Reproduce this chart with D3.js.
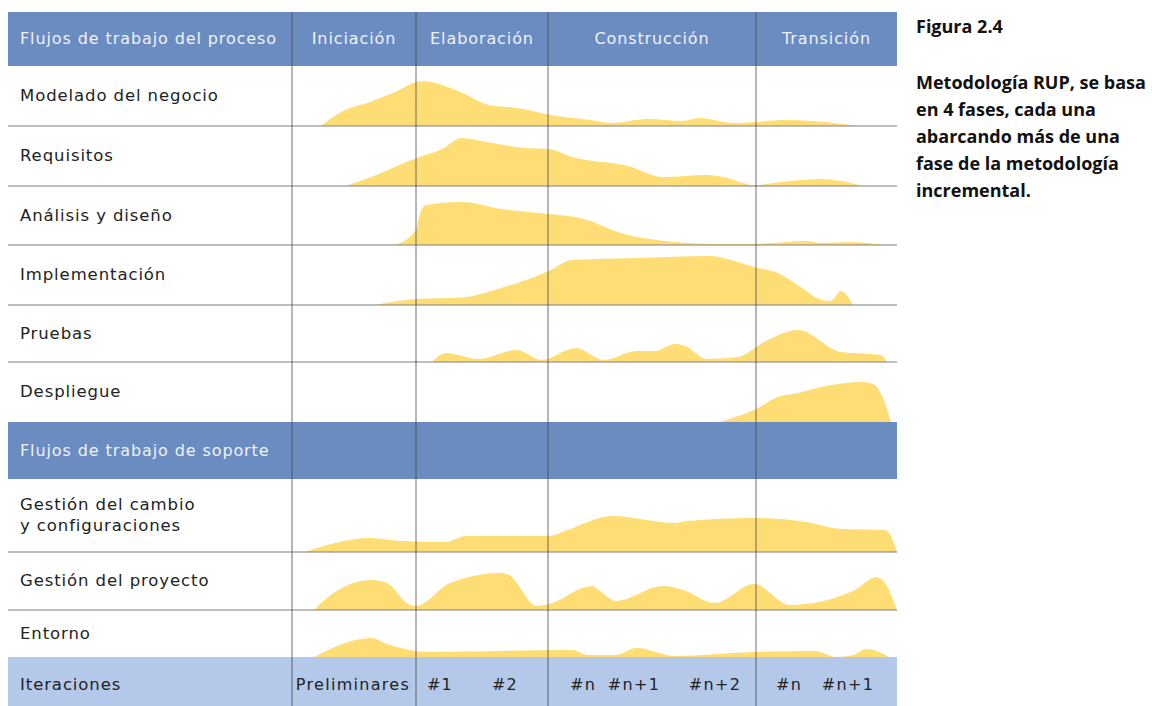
<!DOCTYPE html>
<html>
<head>
<meta charset="utf-8">
<script src="https://cdn.jsdelivr.net/npm/d3@7/dist/d3.min.js"></script>
<style>
  body { margin: 0; background: #fff; }
  svg { display: block; }
</style>
</head>
<body>
<svg id="chart" width="1152" height="706"></svg>
<script>
// fases y limites en el eje del tiempo (0 .. 605)
const phases = ["Iniciación", "Elaboración", "Construcción", "Transición"];
const phaseBounds = [0, 124, 256, 464, 605];

const iterationLabels = ["Preliminares", "#1", "#2", "#n", "#n+1", "#n+2", "#n", "#n+1"];
const iterationTicks = [61, 148, 213, 291, 342, 423, 497, 556];

const processFlows = ["Modelado del negocio", "Requisitos", "Análisis y diseño",
  "Implementación", "Pruebas", "Despliegue"];
const supportFlows = [["Gestión del cambio", "y configuraciones"], ["Gestión del proyecto"], ["Entorno"]];

// esfuerzo [tiempo, intensidad]
const modelado = [[29,0],[51,15],[78,24],[103,34],[130,45],[166,35],[197,21],[225,18],[265,10],
  [298,6],[320,3],[355,7],[391,5],[407,8],[442,3],[494,6],[533,4],[565,0]];
const requisitos = [[53,0],[79,9],[122,27],[150,37],[170,48],[194,44],[233,38],[257,37],[280,29],
  [336,20],[371,9],[415,11],[431,9],[462,1],[498,5],[530,7],[549,5],[571,0]];
const analisis = [[103,0],[124,15],[128,31],[134,40],[170,43],[209,36],[257,31],[288,27],[332,11],
  [383,3],[423,1],[462,1],[514,4],[530,2],[557,3],[593,0]];
const implementacion = [[83,0],[124,6],[170,7.5],[209,17],[257,34],[280,45],[344,47],[419,49],
  [435,46],[462,38],[486,32],[510,17],[530,5],[539,4],[549,14],[561,0]];
const pruebas = [[140,0],[154,9],[186,3],[225,12],[249,2],[284,14],[312,2],[344,11],[363,11],
  [383,18],[391,17],[415,3],[446,5],[474,21],[506,32],[549,10],[589,7],[595,0]];
const despliegue = [[427,0],[462,12],[486,25],[506,29],[534,36],[569,40],[581,38],[593,19],[599,0]];
const cambio = [[12,0],[79,14],[107,11],[154,10],[174,16],[257,16],[273,21],[320,36],[383,29],
  [395,31],[462,34],[514,30],[549,23],[593,22],[599,16],[605,0]];
const proyecto = [[22,0],[28,6],[79,30],[95,27],[118,5],[124,4],[158,27],[209,37],[217,35],
  [245,4],[257,6],[300,24],[304,22],[324,9],[371,24],[391,20],[423,7],[462,26],[498,5],
  [561,19],[585,33],[593,27],[605,0]];
const entorno = [[22,0],[79,19],[95,13],[138,5],[280,7],[296,2],[324,2],[344,9],[383,1],
  [462,5],[522,6],[545,0],[561,2],[575,8],[597,0]];

const processSeries = [modelado, requisitos, analisis, implementacion, pruebas, despliegue];
const supportSeries = [cambio, proyecto, entorno];

const figTitle = "Figura 2.4";
const figText = ["Metodología RUP, se basa", "en 4 fases, cada una", "abarcando más de una",
  "fase de la metodología", "incremental."];

// layout
const padL = 8, padR = 897, padT = 12;
const headerH = 54, supportH = 57, iterTop = 657;
const processRowH = [60, 60, 59, 60, 57, 60];
const supportRowH = [73, 58, 47];

const svg = d3.select("#chart");
const font = "'DejaVu Sans', Verdana, sans-serif";

const x = d3.scaleLinear().domain([0, 605]).range([292, 897]);
const y = d3.scaleLinear().domain([0, 50]).range([0, 50]);

const area = d3.area()
  .x(d => x(d[0]))
  .curve(d3.curveMonotoneX);

// filas
let rows = [];
let yy = padT + headerH;
processFlows.forEach((name, i) => {
  rows.push({ label: [name], data: processSeries[i], y0: yy, y1: yy + processRowH[i] });
  yy += processRowH[i];
});
const supportY = yy;
yy += supportH;
supportFlows.forEach((name, i) => {
  rows.push({ label: name, data: supportSeries[i], y0: yy, y1: yy + supportRowH[i] });
  yy += supportRowH[i];
});

// bandas
svg.append("rect").attr("x", padL).attr("y", padT).attr("width", padR - padL).attr("height", headerH)
  .attr("fill", "#6a8cc0");
svg.append("rect").attr("x", padL).attr("y", supportY).attr("width", padR - padL).attr("height", supportH)
  .attr("fill", "#6a8cc0");
svg.append("rect").attr("x", padL).attr("y", iterTop).attr("width", padR - padL).attr("height", 706 - iterTop)
  .attr("fill", "#b4c8e9");

// areas
svg.append("g").selectAll("path")
  .data(rows)
  .join("path")
  .attr("d", r => area.y0(r.y1).y1(d => r.y1 - y(d[1]))(r.data))
  .attr("fill", "#fedd75");

// lineas horizontales (no bajo Despliegue ni Entorno: ahi empieza una banda)
svg.append("g").selectAll("line")
  .data(rows.filter((r, i) => i !== 5 && i !== rows.length - 1))
  .join("line")
  .attr("x1", padL).attr("x2", padR)
  .attr("y1", r => r.y1).attr("y2", r => r.y1)
  .attr("stroke", "#8c8c8c").attr("stroke-opacity", 0.75).attr("stroke-width", 1.6);

// lineas verticales
svg.append("g").selectAll("line")
  .data(phaseBounds.slice(0, 4))
  .join("line")
  .attr("x1", d => x(d)).attr("x2", d => x(d))
  .attr("y1", padT).attr("y2", 706)
  .attr("stroke", "#444").attr("stroke-opacity", 0.6).attr("stroke-width", 1.3);

// textos cabecera
const headText = sel => sel
  .attr("font-family", font).attr("font-size", 16).attr("letter-spacing", 0.9)
  .attr("fill", "#eef2f9");

svg.append("text").attr("x", 20).attr("y", padT + headerH / 2 + 5)
  .call(headText)
  .text("Flujos de trabajo del proceso");
svg.append("g").selectAll("text")
  .data(phases)
  .join("text")
  .attr("x", (d, i) => x((phaseBounds[i] + phaseBounds[i + 1]) / 2))
  .attr("y", padT + headerH / 2 + 5)
  .attr("text-anchor", "middle")
  .call(headText)
  .text(d => d);
svg.append("text").attr("x", 20).attr("y", supportY + supportH / 2 + 5)
  .call(headText)
  .text("Flujos de trabajo de soporte");

// etiquetas de filas
const rowText = sel => sel
  .attr("font-family", font).attr("font-size", 16.5).attr("letter-spacing", 0.9)
  .attr("fill", "#222");

rows.forEach(r => {
  const cy = (r.y0 + r.y1) / 2 - (r.label.length - 1) * 10.5;
  r.label.forEach((t, k) => {
    svg.append("text").attr("x", 20).attr("y", cy + k * 21 + 5)
      .call(rowText)
      .text(t);
  });
});

// iteraciones
svg.append("text").attr("x", 20).attr("y", 690)
  .call(rowText)
  .text("Iteraciones");
svg.append("g").selectAll("text")
  .data(iterationLabels)
  .join("text")
  .attr("x", (d, i) => x(iterationTicks[i]))
  .attr("y", 690)
  .attr("text-anchor", "middle")
  .attr("font-family", font).attr("font-size", 16).attr("letter-spacing", 1.3)
  .attr("fill", "#222")
  .text(d => d);

// nota lateral
const noteFont = "'Open Sans', 'Noto Sans', sans-serif";
svg.append("text").attr("x", 916).attr("y", 33)
  .attr("font-family", noteFont).attr("font-weight", "bold").attr("font-size", 18).attr("fill", "#111")
  .text(figTitle);
svg.append("g").selectAll("text")
  .data(figText)
  .join("text")
  .attr("x", 916).attr("y", (d, i) => 89 + i * 27)
  .attr("font-family", noteFont).attr("font-weight", "bold").attr("font-size", 18).attr("fill", "#111")
  .text(d => d);
</script>
</body>
</html>
